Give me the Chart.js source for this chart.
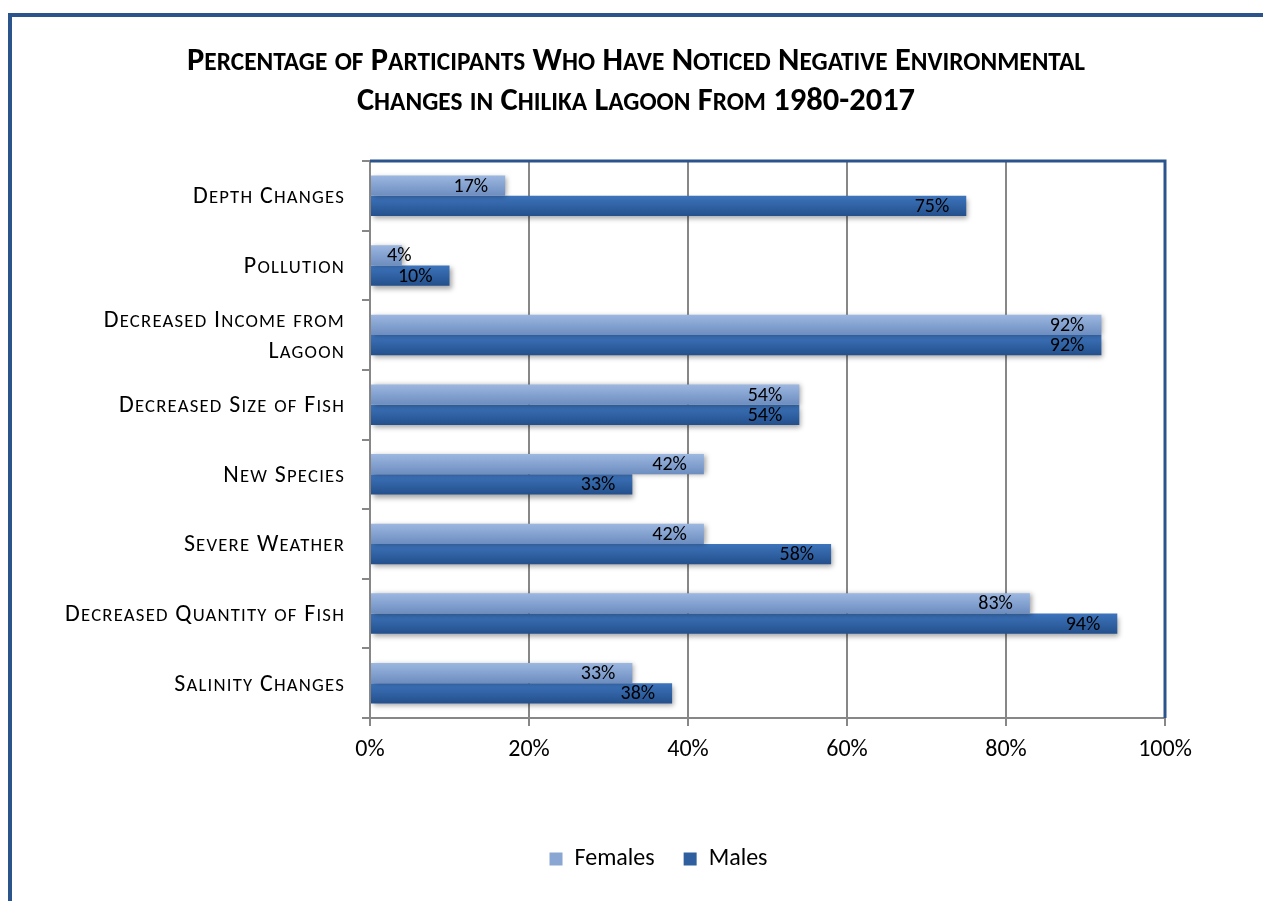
<!DOCTYPE html>
<html>
<head>
<meta charset="utf-8">
<script src="https://cdn.jsdelivr.net/npm/chart.js@4/dist/chart.umd.min.js"></script>
<style>
  body { margin: 0; background: #fff; }
  #frame { position: absolute; left: 8px; top: 13px; width: 1300px; height: 950px;
           border-top: 4px solid #2b548c; border-left: 4px solid #2b548c; }
  #wrap { position: absolute; left: 0; top: 0; width: 1263px; height: 901px; }
</style>
</head>
<body>
<div id="frame"></div>
<div id="wrap"><canvas id="canvas"></canvas></div>
<script>
// data
var categories = [
	"Depth Changes",
	"Pollution",
	["Decreased Income from", "Lagoon"],
	"Decreased Size of Fish",
	"New Species",
	"Severe Weather",
	"Decreased Quantity of Fish",
	"Salinity Changes"
];
var females = [17, 4, 92, 54, 42, 42, 83, 33];
var males = [75, 10, 92, 54, 33, 58, 94, 38];
var xTicks = [0, 20, 40, 60, 80, 100];
var titleLines = ["Percentage of Participants Who Have Noticed Negative Environmental",
	"Changes in Chilika Lagoon From 1980-2017"];

var FONT = "Carlito, Calibri, Lato, sans-serif";
var catPct = 0.58;
var SC = 0.78; // small caps ratio

// draw text in small caps: lower case letters become smaller capitals
function smallCaps(c, text, x, y, size, weight, align, spacing) {
	c.letterSpacing = (spacing || 0) + "px";
	var runs = [];
	for (var i = 0; i < text.length; i++) {
		var ch = text[i];
		var small = ch !== ch.toUpperCase();
		var s = small ? size * SC : size;
		if (runs.length && runs[runs.length - 1].s === s) {
			runs[runs.length - 1].t += ch.toUpperCase();
		} else {
			runs.push({ t: ch.toUpperCase(), s: s });
		}
	}
	var total = 0;
	runs.forEach(function(r) {
		c.font = weight + " " + r.s + "px " + FONT;
		r.w = c.measureText(r.t).width;
		total += r.w;
	});
	var cx = align === "right" ? x - total : (align === "center" ? x - total / 2 : x);
	c.textAlign = "left";
	c.textBaseline = "alphabetic";
	runs.forEach(function(r) {
		c.font = weight + " " + r.s + "px " + FONT;
		c.fillText(r.t, cx, y);
		cx += r.w;
	});
	c.letterSpacing = "0px";
}

// gradient fill for each bar, built from the y scale
function barFill(light, dark, half) {
	return function(ctx) {
		var chart = ctx.chart;
		var y = chart.scales && chart.scales.y;
		if (!y || !chart.chartArea || ctx.dataIndex === undefined) { return dark; }
		var center = y.getPixelForValue(ctx.dataIndex);
		var band = (y.height / categories.length) * catPct / 2;
		var top = half === 0 ? center - band : center;
		var g = chart.ctx.createLinearGradient(0, top, 0, top + band);
		g.addColorStop(0, light);
		g.addColorStop(1, dark);
		return g;
	};
}

var barLabels = {
	id: "barLabels",
	afterLayout: function(chart) {
		// Excel centres the legend on a wider frame
		chart.legend.left += 66;
		chart.legend.right += 66;
	},
	beforeDatasetDraw: function(chart, args) {
		var c = chart.ctx;
		c.save();
		c.shadowColor = "rgba(0,0,0,0.35)";
		c.shadowBlur = 5;
		c.shadowOffsetX = 2;
		c.shadowOffsetY = args.index === 1 ? 3 : 1;
	},
	afterDatasetDraw: function(chart) {
		chart.ctx.restore();
	},
	afterDatasetsDraw: function(chart) {
		var c = chart.ctx;
		c.save();
		c.font = "20px " + FONT;
		c.fillStyle = "#000";
		c.textBaseline = "middle";
		c.textAlign = "left";
		chart.data.datasets.forEach(function(ds, i) {
			chart.getDatasetMeta(i).data.forEach(function(bar, j) {
				var txt = ds.data[j] + "%";
				var w = c.measureText(txt).width;
				var x = Math.max(bar.x - 17 - w, bar.base + 16);
				c.fillText(txt, x, bar.y + 1);
			});
		});
		// plot frame: top and right in blue
		var a = chart.chartArea;
		c.strokeStyle = "#2b548c";
		c.lineWidth = 3;
		c.beginPath();
		c.moveTo(a.left, a.top);
		c.lineTo(a.right, a.top);
		c.lineTo(a.right, a.bottom);
		c.stroke();
		c.restore();
	},
	afterDraw: function(chart) {
		var c = chart.ctx;
		c.save();
		c.fillStyle = "#000";
		// title
		smallCaps(c, titleLines[0], 636, 70, 32.5, "bold", "center");
		smallCaps(c, titleLines[1], 636, 110, 32.5, "bold", "center");
		// category labels
		var y = chart.scales.y;
		categories.forEach(function(lab, i) {
			var lines = Array.isArray(lab) ? lab : [lab];
			var py = y.getPixelForTick(i);
			lines.forEach(function(line, k) {
				var off = (k - (lines.length - 1) / 2) * 31;
				smallCaps(c, line, 345, py + off + 7.5, 24, "normal", "right", 1.2);
			});
		});
		c.restore();
	}
};

var ctx = document.getElementById("canvas").getContext("2d");
var chart = new Chart(ctx, {
	type: "bar",
	data: {
		labels: categories,
		datasets: [{
			label: "Females",
			data: females,
			backgroundColor: barFill("#9cb7e0", "#6d8dc0", 0),
			legendColor: "#8aa6d3",
			categoryPercentage: catPct,
			barPercentage: 1
		}, {
			label: "Males",
			data: males,
			backgroundColor: barFill("#3d74bc", "#24508c", 1),
			legendColor: "#2f5f9f",
			categoryPercentage: catPct,
			barPercentage: 1
		}]
	},
	options: {
		indexAxis: "y",
		responsive: true,
		maintainAspectRatio: false,
		animation: false,
		layout: { padding: { left: 20, right: 98, top: 161, bottom: 20 } },
		plugins: {
			title: { display: false },
			legend: {
				position: "bottom",
				labels: {
					color: "#000",
					font: { family: FONT, size: 24 },
					boxWidth: 13,
					boxHeight: 13,
					padding: 29,
					generateLabels: function(chart) {
						return chart.data.datasets.map(function(ds, i) {
							return { text: ds.label, fillStyle: ds.legendColor, strokeStyle: ds.legendColor,
								lineWidth: 0, datasetIndex: i };
						});
					}
				}
			},
			tooltip: { enabled: false }
		},
		scales: {
			x: {
				min: 0,
				max: 100,
				afterBuildTicks: function(scale) {
					scale.ticks = xTicks.map(function(v) { return { value: v }; });
				},
				afterFit: function(scale) { scale.height = 100; },
				ticks: {
					color: "#000",
					font: { family: FONT, size: 24 },
					padding: 10,
					callback: function(v) { return v + "%"; }
				},
				grid: { color: "#878787", lineWidth: 2, tickLength: 8 },
				border: { color: "#878787", width: 2 }
			},
			y: {
				afterFit: function(scale) { scale.width = 350; },
				ticks: {
					color: "rgba(0,0,0,0)",
					autoSkip: false,
					font: { family: FONT, size: 22 },
					padding: 16
				},
				grid: { drawOnChartArea: false, offset: true, color: "#878787", lineWidth: 2, tickLength: 8 },
				border: { color: "#878787", width: 2 }
			}
		}
	},
	plugins: [barLabels]
});
</script>
</body>
</html>
